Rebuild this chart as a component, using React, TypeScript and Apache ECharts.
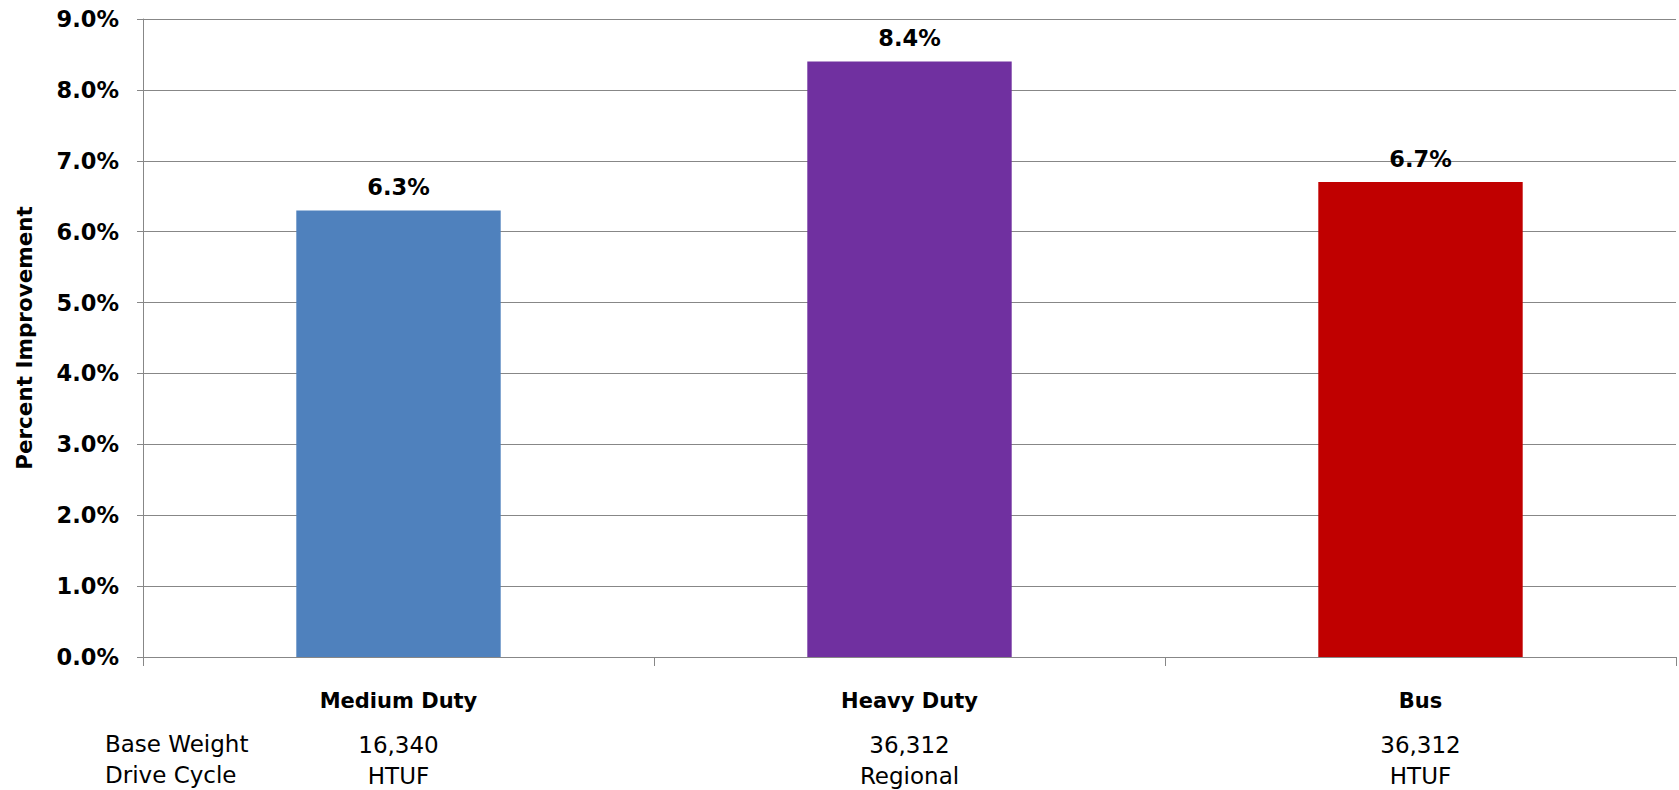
import React, { useEffect, useRef } from "react";
import * as echarts from "echarts";

// Vehicle classes and their fuel-economy improvement (percent)
const categories = ["Medium Duty", "Heavy Duty", "Bus"];
const improvement = [6.3, 8.4, 6.7];
const barColors = ["#4F81BD", "#7030A0", "#C00000"];

// Table rows printed beneath each class
const rowTitles = ["Base Weight", "Drive Cycle"];
const baseWeights = ["16,340", "36,312", "36,312"];
const driveCycles = ["HTUF", "Regional", "HTUF"];

// Y-axis scale
const yMin = 0;
const yMax = 9;
const yStep = 1;

const BOLD = "DejaVu Sans";
const REG = "DejaVu Sans";
const GRID = "#878787";

export default function App() {
  const ref = useRef<HTMLDivElement>(null);

  useEffect(() => {
    if (!ref.current) return;
    const chart = echarts.init(ref.current, undefined, { renderer: "svg" });

    const option: echarts.EChartsOption = {
      animation: false,
      backgroundColor: "#ffffff",
      grid: { left: 143, right: 3, top: 19, bottom: 133, containLabel: false },
      xAxis: {
        type: "category",
        data: categories,
        axisLine: { show: true, lineStyle: { color: GRID, width: 1 } },
        axisTick: { show: true, interval: 0, length: 9, lineStyle: { color: GRID } },
        axisLabel: {
          interval: 0,
          margin: 15,
          formatter: (name: string, idx: number) =>
            `{name|${name}}\n{val|${baseWeights[idx]}}\n{val|${driveCycles[idx]}}`,
          rich: {
            name: {
              fontFamily: BOLD,
              fontWeight: "bold",
              fontSize: 21,
              color: "#000",
              lineHeight: 57,
            },
            val: {
              fontFamily: REG,
              fontSize: 23,
              color: "#000",
              lineHeight: 31,
            },
          },
        },
      },
      yAxis: {
        type: "value",
        min: yMin,
        max: yMax,
        interval: yStep,
        name: "Percent Improvement",
        nameLocation: "middle",
        nameRotate: 90,
        nameGap: 108,
        nameTextStyle: {
          fontFamily: BOLD,
          fontWeight: "bold",
          fontSize: 21.5,
          color: "#000",
        },
        axisLine: { show: true, lineStyle: { color: GRID, width: 1 } },
        axisTick: { show: true, length: 6, lineStyle: { color: GRID } },
        splitLine: { show: true, lineStyle: { color: GRID, width: 1 } },
        axisLabel: {
          margin: 24,
          fontFamily: BOLD,
          fontWeight: "bold",
          fontSize: 22.5,
          color: "#000",
          formatter: (v: number) => `${v.toFixed(1)}%`,
        },
      },
      series: [
        {
          type: "bar",
          barWidth: "40%",
          data: improvement.map((v, i) => ({
            value: v,
            itemStyle: { color: barColors[i] },
          })),
          label: {
            show: true,
            position: "top",
            distance: 12,
            fontFamily: BOLD,
            fontWeight: "bold",
            fontSize: 22.5,
            color: "#000",
            formatter: (p: any) => `${Number(p.value).toFixed(1)}%`,
          },
        },
      ],
      graphic: rowTitles.map((t, i) => ({
        type: "text",
        left: 105,
        top: 732 + i * 31,
        style: {
          text: t,
          fontFamily: REG,
          fontSize: 23,
          fill: "#000",
        },
      })),
    };

    chart.setOption(option);
    return () => chart.dispose();
  }, []);

  return (
    <div
      ref={ref}
      style={{ position: "fixed", left: 0, top: 0, width: 1679, height: 790, background: "#fff" }}
    />
  );
}
